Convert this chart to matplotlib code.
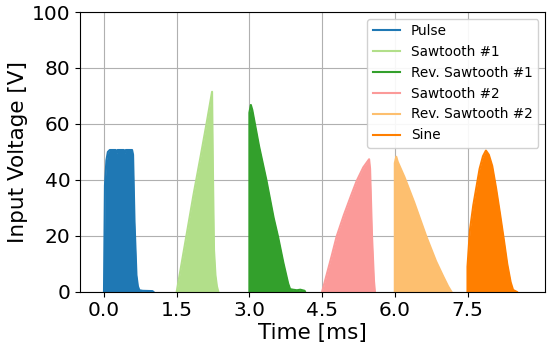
import matplotlib
matplotlib.use("Agg")
import matplotlib.pyplot as plt

# Digitized waveforms (time in ms, voltage in V)
pulse_t = [0.0, 0.02, 0.05, 0.08, 0.12, 0.24, 0.26, 0.28, 0.41, 0.43, 0.45, 0.58, 0.60, 0.63, 0.67, 0.70, 0.73, 0.80, 1.00, 1.02]
pulse_v = [0.0, 38.0, 47.0, 50.0, 50.7, 50.7, 49.6, 50.7, 50.7, 49.6, 50.7, 50.7, 49.0, 25.0, 6.0, 2.0, 0.6, 0.4, 0.3, 0.0]

saw1_t = [1.50, 1.60, 1.72, 1.85, 2.00, 2.12, 2.23, 2.25, 2.27, 2.30, 2.33, 2.36]
saw1_v = [0.0, 10.0, 22.0, 35.0, 49.0, 60.5, 71.5, 40.0, 15.0, 6.0, 2.0, 0.0]

rsaw1_t = [3.00, 3.00, 3.03, 3.06, 3.20, 3.35, 3.50, 3.59, 3.70, 3.80, 3.84, 3.90, 3.98, 4.05, 4.14, 4.15]
rsaw1_v = [0.0, 64.0, 66.8, 65.0, 52.0, 40.0, 26.5, 19.8, 10.5, 3.0, 1.0, 0.8, 0.6, 0.8, 0.4, 0.0]

saw2_t = [4.50, 4.60, 4.70, 4.80, 4.95, 5.10, 5.21, 5.35, 5.47, 5.49, 5.53, 5.57, 5.59]
saw2_v = [0.0, 6.5, 13.0, 19.8, 27.5, 34.5, 39.5, 44.5, 47.4, 44.0, 20.0, 4.0, 0.0]

rsaw2_t = [6.00, 6.00, 6.03, 6.06, 6.20, 6.40, 6.65, 6.85, 7.00, 7.10, 7.17]
rsaw2_v = [0.0, 46.0, 48.3, 46.5, 41.0, 32.0, 19.8, 11.0, 5.5, 2.0, 0.0]

sine_t = [7.50, 7.50, 7.55, 7.62, 7.68, 7.75, 7.82, 7.88, 7.94, 8.01, 8.09, 8.17, 8.25, 8.32, 8.39, 8.44, 8.52]
sine_v = [0.0, 9.0, 22.0, 31.0, 37.0, 44.0, 48.5, 50.5, 49.0, 45.0, 37.0, 28.0, 18.6, 10.0, 3.5, 0.7, 0.0]

labels = ["Pulse", "Sawtooth #1", "Rev. Sawtooth #1", "Sawtooth #2", "Rev. Sawtooth #2", "Sine"]
colors = ["#1f78b4", "#b2df8a", "#33a02c", "#fb9a99", "#fdbf6f", "#ff7f00"]

x_ticks = [0.0, 1.5, 3.0, 4.5, 6.0, 7.5]
y_ticks = [0, 20, 40, 60, 80, 100]

series = [(pulse_t, pulse_v), (saw1_t, saw1_v), (rsaw1_t, rsaw1_v),
          (saw2_t, saw2_v), (rsaw2_t, rsaw2_v), (sine_t, sine_v)]

fig = plt.figure(figsize=(5.5, 3.53), dpi=100)
ax = fig.add_axes([0.145, 0.173, 0.846, 0.793])

for (t, v), lab, c in zip(series, labels, colors):
    ax.plot(t, v, color=c, lw=1.5, label=lab)
    ax.fill_between(t, v, 0, color=c, lw=0)

ax.set_xlim(-0.5, 9.1)
ax.set_ylim(0, 100)
ax.set_xticks(x_ticks)
ax.set_xticklabels([f"{x:.1f}" for x in x_ticks])
ax.set_yticks(y_ticks)
ax.tick_params(labelsize=14.5, pad=3)
ax.grid(True, color="#b0b0b0", lw=0.8)
ax.set_axisbelow(True)
ax.set_xlabel("Time [ms]", fontsize=15.5, labelpad=2)
ax.set_ylabel("Input Voltage [V]", fontsize=15.5, labelpad=3)
ax.legend(loc="upper right", fontsize=9.8, framealpha=0.9)

fig.savefig("out.png", dpi=100)
